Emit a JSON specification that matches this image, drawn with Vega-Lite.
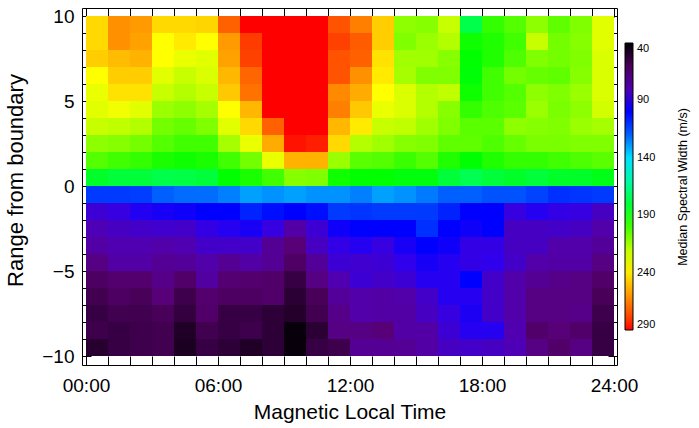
{
"$schema": "https://vega.github.io/schema/vega-lite/v6.json",
"width": 535, "height": 357,
"autosize": {"type": "none"},
"padding": {"left": 82, "top": 8, "right": 82, "bottom": 63},
"background": "white",
"config": {"font": "Liberation Sans", "view": {"stroke": null},
  "axis": {"grid": false, "domainColor": "black", "tickColor": "black", "labelColor": "black", "titleColor": "black", "titleFontWeight": "normal", "labelFontSize": 19, "titleFontSize": 21, "domainWidth": 1, "tickWidth": 1, "labelFlush": false, "labelOverlap": false}},
"data": {"values": [
{"h":0,"r":9,"v":244},{"h":1,"r":9,"v":261},{"h":2,"r":9,"v":259},{"h":3,"r":9,"v":244},{"h":4,"r":9,"v":244},{"h":5,"r":9,"v":245},{"h":6,"r":9,"v":272},{"h":7,"r":9,"v":290},{"h":8,"r":9,"v":290},{"h":9,"r":9,"v":290},{"h":10,"r":9,"v":290},{"h":11,"r":9,"v":275},{"h":12,"r":9,"v":265},{"h":13,"r":9,"v":247},{"h":14,"r":9,"v":212},{"h":15,"r":9,"v":211},{"h":16,"r":9,"v":222},{"h":17,"r":9,"v":177},{"h":18,"r":9,"v":198},{"h":19,"r":9,"v":203},{"h":20,"r":9,"v":212},{"h":21,"r":9,"v":205},{"h":22,"r":9,"v":210},{"h":23,"r":9,"v":228},
{"h":0,"r":8,"v":244},{"h":1,"r":8,"v":261},{"h":2,"r":8,"v":257},{"h":3,"r":8,"v":235},{"h":4,"r":8,"v":240},{"h":5,"r":8,"v":235},{"h":6,"r":8,"v":259},{"h":7,"r":8,"v":280},{"h":8,"r":8,"v":290},{"h":9,"r":8,"v":290},{"h":10,"r":8,"v":290},{"h":11,"r":8,"v":279},{"h":12,"r":8,"v":273},{"h":13,"r":8,"v":247},{"h":14,"r":8,"v":210},{"h":15,"r":8,"v":214},{"h":16,"r":8,"v":218},{"h":17,"r":8,"v":192},{"h":18,"r":8,"v":195},{"h":19,"r":8,"v":200},{"h":20,"r":8,"v":222},{"h":21,"r":8,"v":208},{"h":22,"r":8,"v":211},{"h":23,"r":8,"v":228},
{"h":0,"r":7,"v":247},{"h":1,"r":7,"v":251},{"h":2,"r":7,"v":253},{"h":3,"r":7,"v":235},{"h":4,"r":7,"v":230},{"h":5,"r":7,"v":228},{"h":6,"r":7,"v":257},{"h":7,"r":7,"v":279},{"h":8,"r":7,"v":290},{"h":9,"r":7,"v":290},{"h":10,"r":7,"v":290},{"h":11,"r":7,"v":275},{"h":12,"r":7,"v":272},{"h":13,"r":7,"v":242},{"h":14,"r":7,"v":215},{"h":15,"r":7,"v":215},{"h":16,"r":7,"v":211},{"h":17,"r":7,"v":190},{"h":18,"r":7,"v":195},{"h":19,"r":7,"v":202},{"h":20,"r":7,"v":210},{"h":21,"r":7,"v":208},{"h":22,"r":7,"v":210},{"h":23,"r":7,"v":226},
{"h":0,"r":6,"v":235},{"h":1,"r":6,"v":247},{"h":2,"r":6,"v":247},{"h":3,"r":6,"v":228},{"h":4,"r":6,"v":222},{"h":5,"r":6,"v":226},{"h":6,"r":6,"v":252},{"h":7,"r":6,"v":271},{"h":8,"r":6,"v":290},{"h":9,"r":6,"v":290},{"h":10,"r":6,"v":290},{"h":11,"r":6,"v":275},{"h":12,"r":6,"v":261},{"h":13,"r":6,"v":240},{"h":14,"r":6,"v":216},{"h":15,"r":6,"v":210},{"h":16,"r":6,"v":210},{"h":17,"r":6,"v":189},{"h":18,"r":6,"v":200},{"h":19,"r":6,"v":208},{"h":20,"r":6,"v":206},{"h":21,"r":6,"v":205},{"h":22,"r":6,"v":211},{"h":23,"r":6,"v":226},
{"h":0,"r":5,"v":230},{"h":1,"r":5,"v":242},{"h":2,"r":5,"v":242},{"h":3,"r":5,"v":222},{"h":4,"r":5,"v":218},{"h":5,"r":5,"v":222},{"h":6,"r":5,"v":248},{"h":7,"r":5,"v":268},{"h":8,"r":5,"v":290},{"h":9,"r":5,"v":290},{"h":10,"r":5,"v":290},{"h":11,"r":5,"v":263},{"h":12,"r":5,"v":255},{"h":13,"r":5,"v":235},{"h":14,"r":5,"v":226},{"h":15,"r":5,"v":218},{"h":16,"r":5,"v":220},{"h":17,"r":5,"v":192},{"h":18,"r":5,"v":200},{"h":19,"r":5,"v":203},{"h":20,"r":5,"v":212},{"h":21,"r":5,"v":210},{"h":22,"r":5,"v":214},{"h":23,"r":5,"v":226},
{"h":0,"r":4,"v":228},{"h":1,"r":4,"v":232},{"h":2,"r":4,"v":228},{"h":3,"r":4,"v":214},{"h":4,"r":4,"v":212},{"h":5,"r":4,"v":216},{"h":6,"r":4,"v":235},{"h":7,"r":4,"v":252},{"h":8,"r":4,"v":290},{"h":9,"r":4,"v":290},{"h":10,"r":4,"v":290},{"h":11,"r":4,"v":265},{"h":12,"r":4,"v":248},{"h":13,"r":4,"v":230},{"h":14,"r":4,"v":226},{"h":15,"r":4,"v":218},{"h":16,"r":4,"v":211},{"h":17,"r":4,"v":198},{"h":18,"r":4,"v":202},{"h":19,"r":4,"v":204},{"h":20,"r":4,"v":214},{"h":21,"r":4,"v":209},{"h":22,"r":4,"v":212},{"h":23,"r":4,"v":224},
{"h":0,"r":3,"v":222},{"h":1,"r":3,"v":220},{"h":2,"r":3,"v":218},{"h":3,"r":3,"v":208},{"h":4,"r":3,"v":206},{"h":5,"r":3,"v":210},{"h":6,"r":3,"v":228},{"h":7,"r":3,"v":244},{"h":8,"r":3,"v":272},{"h":9,"r":3,"v":290},{"h":10,"r":3,"v":290},{"h":11,"r":3,"v":252},{"h":12,"r":3,"v":240},{"h":13,"r":3,"v":222},{"h":14,"r":3,"v":220},{"h":15,"r":3,"v":215},{"h":16,"r":3,"v":210},{"h":17,"r":3,"v":204},{"h":18,"r":3,"v":204},{"h":19,"r":3,"v":212},{"h":20,"r":3,"v":211},{"h":21,"r":3,"v":210},{"h":22,"r":3,"v":214},{"h":23,"r":3,"v":216},
{"h":0,"r":2,"v":212},{"h":1,"r":2,"v":211},{"h":2,"r":2,"v":208},{"h":3,"r":2,"v":203},{"h":4,"r":2,"v":200},{"h":5,"r":2,"v":200},{"h":6,"r":2,"v":216},{"h":7,"r":2,"v":230},{"h":8,"r":2,"v":255},{"h":9,"r":2,"v":287},{"h":10,"r":2,"v":285},{"h":11,"r":2,"v":244},{"h":12,"r":2,"v":218},{"h":13,"r":2,"v":215},{"h":14,"r":2,"v":211},{"h":15,"r":2,"v":210},{"h":16,"r":2,"v":205},{"h":17,"r":2,"v":205},{"h":18,"r":2,"v":202},{"h":19,"r":2,"v":206},{"h":20,"r":2,"v":209},{"h":21,"r":2,"v":209},{"h":22,"r":2,"v":210},{"h":23,"r":2,"v":210},
{"h":0,"r":1,"v":203},{"h":1,"r":1,"v":200},{"h":2,"r":1,"v":198},{"h":3,"r":1,"v":194},{"h":4,"r":1,"v":192},{"h":5,"r":1,"v":194},{"h":6,"r":1,"v":200},{"h":7,"r":1,"v":208},{"h":8,"r":1,"v":230},{"h":9,"r":1,"v":253},{"h":10,"r":1,"v":253},{"h":11,"r":1,"v":214},{"h":12,"r":1,"v":204},{"h":13,"r":1,"v":203},{"h":14,"r":1,"v":199},{"h":15,"r":1,"v":203},{"h":16,"r":1,"v":195},{"h":17,"r":1,"v":190},{"h":18,"r":1,"v":195},{"h":19,"r":1,"v":198},{"h":20,"r":1,"v":198},{"h":21,"r":1,"v":200},{"h":22,"r":1,"v":202},{"h":23,"r":1,"v":204},
{"h":0,"r":0,"v":183},{"h":1,"r":0,"v":180},{"h":2,"r":0,"v":180},{"h":3,"r":0,"v":177},{"h":4,"r":0,"v":178},{"h":5,"r":0,"v":180},{"h":6,"r":0,"v":190},{"h":7,"r":0,"v":194},{"h":8,"r":0,"v":200},{"h":9,"r":0,"v":211},{"h":10,"r":0,"v":210},{"h":11,"r":0,"v":192},{"h":12,"r":0,"v":190},{"h":13,"r":0,"v":190},{"h":14,"r":0,"v":188},{"h":15,"r":0,"v":188},{"h":16,"r":0,"v":180},{"h":17,"r":0,"v":176},{"h":18,"r":0,"v":180},{"h":19,"r":0,"v":183},{"h":20,"r":0,"v":180},{"h":21,"r":0,"v":183},{"h":22,"r":0,"v":183},{"h":23,"r":0,"v":186},
{"h":0,"r":-1,"v":112},{"h":1,"r":-1,"v":112},{"h":2,"r":-1,"v":113},{"h":3,"r":-1,"v":120},{"h":4,"r":-1,"v":122},{"h":5,"r":-1,"v":122},{"h":6,"r":-1,"v":125},{"h":7,"r":-1,"v":130},{"h":8,"r":-1,"v":128},{"h":9,"r":-1,"v":130},{"h":10,"r":-1,"v":128},{"h":11,"r":-1,"v":128},{"h":12,"r":-1,"v":125},{"h":13,"r":-1,"v":130},{"h":14,"r":-1,"v":128},{"h":15,"r":-1,"v":124},{"h":16,"r":-1,"v":120},{"h":17,"r":-1,"v":120},{"h":18,"r":-1,"v":117},{"h":19,"r":-1,"v":117},{"h":20,"r":-1,"v":114},{"h":21,"r":-1,"v":110},{"h":22,"r":-1,"v":111},{"h":23,"r":-1,"v":112},
{"h":0,"r":-2,"v":86},{"h":1,"r":-2,"v":88},{"h":2,"r":-2,"v":93},{"h":3,"r":-2,"v":95},{"h":4,"r":-2,"v":97},{"h":5,"r":-2,"v":100},{"h":6,"r":-2,"v":100},{"h":7,"r":-2,"v":107},{"h":8,"r":-2,"v":103},{"h":9,"r":-2,"v":100},{"h":10,"r":-2,"v":103},{"h":11,"r":-2,"v":112},{"h":12,"r":-2,"v":111},{"h":13,"r":-2,"v":112},{"h":14,"r":-2,"v":112},{"h":15,"r":-2,"v":112},{"h":16,"r":-2,"v":107},{"h":17,"r":-2,"v":100},{"h":18,"r":-2,"v":100},{"h":19,"r":-2,"v":88},{"h":20,"r":-2,"v":92},{"h":21,"r":-2,"v":89},{"h":22,"r":-2,"v":88},{"h":23,"r":-2,"v":83},
{"h":0,"r":-3,"v":81},{"h":1,"r":-3,"v":83},{"h":2,"r":-3,"v":84},{"h":3,"r":-3,"v":85},{"h":4,"r":-3,"v":84},{"h":5,"r":-3,"v":89},{"h":6,"r":-3,"v":92},{"h":7,"r":-3,"v":95},{"h":8,"r":-3,"v":88},{"h":9,"r":-3,"v":78},{"h":10,"r":-3,"v":86},{"h":11,"r":-3,"v":97},{"h":12,"r":-3,"v":100},{"h":13,"r":-3,"v":100},{"h":14,"r":-3,"v":100},{"h":15,"r":-3,"v":110},{"h":16,"r":-3,"v":100},{"h":17,"r":-3,"v":97},{"h":18,"r":-3,"v":100},{"h":19,"r":-3,"v":83},{"h":20,"r":-3,"v":83},{"h":21,"r":-3,"v":84},{"h":22,"r":-3,"v":83},{"h":23,"r":-3,"v":79},
{"h":0,"r":-4,"v":78},{"h":1,"r":-4,"v":80},{"h":2,"r":-4,"v":80},{"h":3,"r":-4,"v":79},{"h":4,"r":-4,"v":80},{"h":5,"r":-4,"v":84},{"h":6,"r":-4,"v":84},{"h":7,"r":-4,"v":84},{"h":8,"r":-4,"v":75},{"h":9,"r":-4,"v":70},{"h":10,"r":-4,"v":83},{"h":11,"r":-4,"v":89},{"h":12,"r":-4,"v":92},{"h":13,"r":-4,"v":88},{"h":14,"r":-4,"v":95},{"h":15,"r":-4,"v":100},{"h":16,"r":-4,"v":97},{"h":17,"r":-4,"v":89},{"h":18,"r":-4,"v":89},{"h":19,"r":-4,"v":83},{"h":20,"r":-4,"v":83},{"h":21,"r":-4,"v":79},{"h":22,"r":-4,"v":79},{"h":23,"r":-4,"v":76},
{"h":0,"r":-5,"v":72},{"h":1,"r":-5,"v":78},{"h":2,"r":-5,"v":78},{"h":3,"r":-5,"v":75},{"h":4,"r":-5,"v":76},{"h":5,"r":-5,"v":79},{"h":6,"r":-5,"v":75},{"h":7,"r":-5,"v":78},{"h":8,"r":-5,"v":75},{"h":9,"r":-5,"v":64},{"h":10,"r":-5,"v":76},{"h":11,"r":-5,"v":86},{"h":12,"r":-5,"v":85},{"h":13,"r":-5,"v":86},{"h":14,"r":-5,"v":90},{"h":15,"r":-5,"v":95},{"h":16,"r":-5,"v":92},{"h":17,"r":-5,"v":89},{"h":18,"r":-5,"v":90},{"h":19,"r":-5,"v":84},{"h":20,"r":-5,"v":79},{"h":21,"r":-5,"v":78},{"h":22,"r":-5,"v":78},{"h":23,"r":-5,"v":72},
{"h":0,"r":-6,"v":63},{"h":1,"r":-6,"v":67},{"h":2,"r":-6,"v":67},{"h":3,"r":-6,"v":73},{"h":4,"r":-6,"v":65},{"h":5,"r":-6,"v":77},{"h":6,"r":-6,"v":68},{"h":7,"r":-6,"v":67},{"h":8,"r":-6,"v":65},{"h":9,"r":-6,"v":55},{"h":10,"r":-6,"v":72},{"h":11,"r":-6,"v":80},{"h":12,"r":-6,"v":86},{"h":13,"r":-6,"v":84},{"h":14,"r":-6,"v":86},{"h":15,"r":-6,"v":92},{"h":16,"r":-6,"v":92},{"h":17,"r":-6,"v":100},{"h":18,"r":-6,"v":84},{"h":19,"r":-6,"v":79},{"h":20,"r":-6,"v":75},{"h":21,"r":-6,"v":73},{"h":22,"r":-6,"v":72},{"h":23,"r":-6,"v":65},
{"h":0,"r":-7,"v":58},{"h":1,"r":-7,"v":63},{"h":2,"r":-7,"v":60},{"h":3,"r":-7,"v":70},{"h":4,"r":-7,"v":57},{"h":5,"r":-7,"v":67},{"h":6,"r":-7,"v":63},{"h":7,"r":-7,"v":63},{"h":8,"r":-7,"v":65},{"h":9,"r":-7,"v":51},{"h":10,"r":-7,"v":60},{"h":11,"r":-7,"v":76},{"h":12,"r":-7,"v":79},{"h":13,"r":-7,"v":78},{"h":14,"r":-7,"v":79},{"h":15,"r":-7,"v":84},{"h":16,"r":-7,"v":92},{"h":17,"r":-7,"v":92},{"h":18,"r":-7,"v":84},{"h":19,"r":-7,"v":79},{"h":20,"r":-7,"v":72},{"h":21,"r":-7,"v":72},{"h":22,"r":-7,"v":72},{"h":23,"r":-7,"v":60},
{"h":0,"r":-8,"v":55},{"h":1,"r":-8,"v":58},{"h":2,"r":-8,"v":58},{"h":3,"r":-8,"v":60},{"h":4,"r":-8,"v":54},{"h":5,"r":-8,"v":65},{"h":6,"r":-8,"v":55},{"h":7,"r":-8,"v":55},{"h":8,"r":-8,"v":52},{"h":9,"r":-8,"v":49},{"h":10,"r":-8,"v":58},{"h":11,"r":-8,"v":73},{"h":12,"r":-8,"v":79},{"h":13,"r":-8,"v":78},{"h":14,"r":-8,"v":78},{"h":15,"r":-8,"v":83},{"h":16,"r":-8,"v":88},{"h":17,"r":-8,"v":94},{"h":18,"r":-8,"v":84},{"h":19,"r":-8,"v":79},{"h":20,"r":-8,"v":72},{"h":21,"r":-8,"v":72},{"h":22,"r":-8,"v":73},{"h":23,"r":-8,"v":57},
{"h":0,"r":-9,"v":57},{"h":1,"r":-9,"v":55},{"h":2,"r":-9,"v":57},{"h":3,"r":-9,"v":58},{"h":4,"r":-9,"v":48},{"h":5,"r":-9,"v":58},{"h":6,"r":-9,"v":55},{"h":7,"r":-9,"v":57},{"h":8,"r":-9,"v":52},{"h":9,"r":-9,"v":42},{"h":10,"r":-9,"v":51},{"h":11,"r":-9,"v":72},{"h":12,"r":-9,"v":72},{"h":13,"r":-9,"v":70},{"h":14,"r":-9,"v":78},{"h":15,"r":-9,"v":78},{"h":16,"r":-9,"v":86},{"h":17,"r":-9,"v":92},{"h":18,"r":-9,"v":92},{"h":19,"r":-9,"v":80},{"h":20,"r":-9,"v":65},{"h":21,"r":-9,"v":70},{"h":22,"r":-9,"v":65},{"h":23,"r":-9,"v":55},
{"h":0,"r":-10,"v":50},{"h":1,"r":-10,"v":55},{"h":2,"r":-10,"v":57},{"h":3,"r":-10,"v":58},{"h":4,"r":-10,"v":47},{"h":5,"r":-10,"v":55},{"h":6,"r":-10,"v":52},{"h":7,"r":-10,"v":48},{"h":8,"r":-10,"v":52},{"h":9,"r":-10,"v":42},{"h":10,"r":-10,"v":55},{"h":11,"r":-10,"v":57},{"h":12,"r":-10,"v":75},{"h":13,"r":-10,"v":75},{"h":14,"r":-10,"v":75},{"h":15,"r":-10,"v":78},{"h":16,"r":-10,"v":83},{"h":17,"r":-10,"v":84},{"h":18,"r":-10,"v":83},{"h":19,"r":-10,"v":81},{"h":20,"r":-10,"v":72},{"h":21,"r":-10,"v":65},{"h":22,"r":-10,"v":72},{"h":23,"r":-10,"v":55}
]},
"transform": [{"calculate": "datum.h + 1", "as": "h_end"}, {"calculate": "datum.r + 1", "as": "r_end"}],
"layer": [
 {"mark": {"type": "rect"},
  "encoding": {
   "x": {"field": "h", "type": "quantitative",
     "scale": {"domain": [-0.18181818, 24.13636364], "nice": false, "zero": false},
     "axis": {"orient": "bottom", "grid": false, "values": [0,1,2,3,4,5,6,7,8,9,10,11,12,13,14,15,16,17,18,19,20,21,22,23,24], "tickSize": -9, "labelPadding": 20,
       "labelExpr": "datum.value % 6 == 0 ? (datum.value < 10 ? '0' : '') + datum.value + ':00' : ''",
       "title": "Magnetic Local Time", "titleFontSize": 21, "titleY": 53, "titleBaseline": "alphabetic"}},
   "x2": {"field": "h_end"},
   "y": {"field": "r", "type": "quantitative",
     "scale": {"domain": [-10.52941176, 10.47058824], "nice": false, "zero": false},
     "axis": {"orient": "left", "grid": false, "values": [-10,-9,-8,-7,-6,-5,-4,-3,-2,-1,0,1,2,3,4,5,6,7,8,9,10], "tickSize": -9, "labelPadding": 17,
       "labelExpr": "datum.value % 5 == 0 ? (datum.value < 0 ? '\u2212' + abs(datum.value) : '' + datum.value) : ''",
       "title": "Range from boundary", "titleFontSize": 22, "titleX": -60, "titleY": 172, "titleBaseline": "alphabetic", "titleAngle": 270}},
   "y2": {"field": "r_end"},
   "color": {"field": "v", "type": "quantitative",
     "scale": {"domain": [290,280,265,250,235,220,205,190,165,140,120,100,90,80,70,60,50,40],
       "range": ["#ff0000","#ff3c00","#ff8000","#ffc000","#ffff00","#c0ff00","#60ff00","#00ff00","#00ff90","#00e0ff","#0060ff","#0000ff","#3000ec","#5000b0","#580078","#480058","#280030","#000000"],
       "interpolate": "rgb", "clamp": true},
     "legend": {"type": "gradient", "title": "Median Spectral Width (m/s)", "orient": "none", "legendX": 543, "legendY": 35, "direction": "vertical",
       "gradientLength": 287, "gradientThickness": 8, "values": [40,90,140,190,240,290],
       "labelBaseline": "alphabetic", "labelOffset": 4, "labelFontSize": 11, "labelColor": "black", "labelOverlap": false,
       "titleFontSize": 12.5, "titleFontWeight": "normal", "titleColor": "black", "titleOrient": "right", "titlePadding": 35, "titleAnchor": "middle",
       "gradientStrokeColor": "black", "gradientStrokeWidth": 1, "padding": 0,
       "encode": {"title": {"update": {"angle": {"value": 270}}}}}}
  }},
 {"mark": {"type": "rect", "opacity": 0},
  "encoding": {
   "x": {"field": "h", "type": "quantitative",
     "scale": {"domain": [-0.18181818, 24.13636364], "nice": false, "zero": false},
     "axis": {"orient": "top", "grid": false, "values": [0,1,2,3,4,5,6,7,8,9,10,11,12,13,14,15,16,17,18,19,20,21,22,23,24], "tickSize": -9, "labels": false, "title": null}},
   "x2": {"field": "h_end"},
   "y": {"field": "r", "type": "quantitative",
     "scale": {"domain": [-10.52941176, 10.47058824], "nice": false, "zero": false},
     "axis": {"orient": "right", "grid": false, "values": [-10,-9,-8,-7,-6,-5,-4,-3,-2,-1,0,1,2,3,4,5,6,7,8,9,10], "tickSize": -9, "labels": false, "title": null}},
   "y2": {"field": "r_end"}
  }}
],
"resolve": {"axis": {"x": "independent", "y": "independent"}}
}
